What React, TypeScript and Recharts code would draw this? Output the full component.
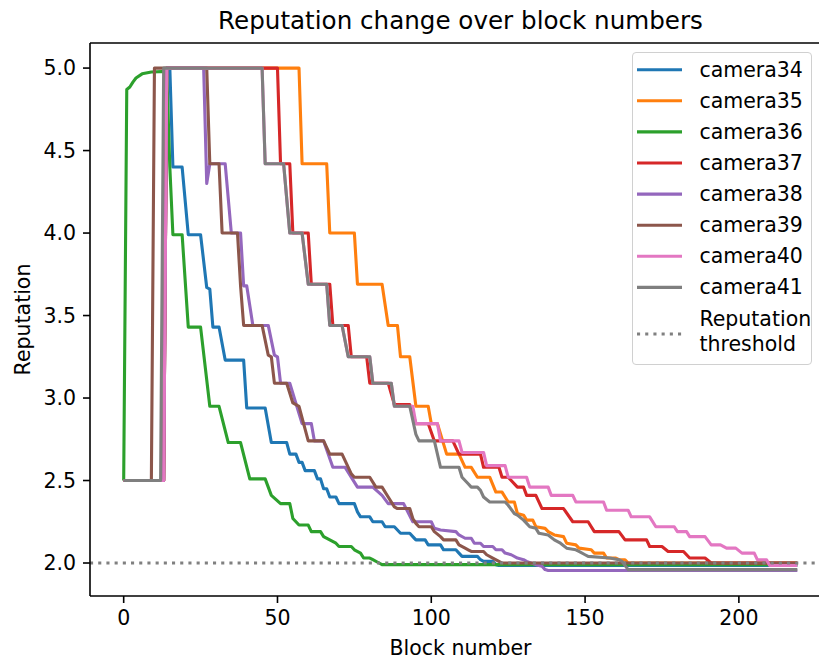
import React from 'react';
import { LineChart, Line, XAxis, YAxis, ReferenceLine, Legend } from 'recharts';

// ---------- data ----------
const SERIES_NAMES = ['camera34', 'camera35', 'camera36', 'camera37', 'camera38', 'camera39', 'camera40', 'camera41'];
const SERIES_COLORS = ['#1f77b4', '#ff7f0e', '#2ca02c', '#d62728', '#9467bd', '#8c564b', '#e377c2', '#7f7f7f'];

// [block number, reputation] vertices of each series
const camera34: [number, number][] = [
  [0, 2.5], [13, 2.5], [14, 5.0], [15, 5.0], [16, 4.4], [19, 4.4], [21, 3.99], [25, 3.99], [27, 3.67], [28, 3.66],
  [29, 3.43], [31, 3.43], [33, 3.23], [39, 3.23], [40, 2.94], [46, 2.94], [48, 2.73], [53, 2.73], [54, 2.66], [56, 2.66],
  [57, 2.61], [58, 2.61], [59, 2.56], [62, 2.56], [63, 2.51], [64, 2.51], [65, 2.45], [66, 2.45], [67, 2.4], [69, 2.4],
  [70, 2.36], [75, 2.36], [76, 2.31], [77, 2.28], [80, 2.28], [81, 2.25], [84, 2.25], [85, 2.22], [88, 2.22], [89, 2.2],
  [90, 2.18], [93, 2.18], [94, 2.16], [95, 2.14], [98, 2.14], [99, 2.11], [103, 2.11], [104, 2.08], [108, 2.08], [109, 2.06],
  [110, 2.04], [115, 2.04], [116, 2.02], [117, 2.01], [120, 2.01], [121, 1.99], [122, 1.985], [219, 1.985],
];
const camera35: [number, number][] = [
  [0, 2.5], [13, 2.5], [14, 5.0], [57, 5.0], [58, 4.42], [66, 4.42], [67, 4.0], [75, 4.0], [76, 3.69], [84, 3.69],
  [86, 3.44], [89, 3.44], [90, 3.25], [93, 3.25], [95, 2.95], [99, 2.95], [100, 2.845], [102, 2.845], [105, 2.66], [109, 2.66],
  [111, 2.58], [113, 2.58], [115, 2.52], [119, 2.52], [121, 2.43], [123, 2.43], [124, 2.4], [125, 2.37], [127, 2.37], [128, 2.3],
  [130, 2.29], [131, 2.26], [133, 2.26], [134, 2.22], [137, 2.21], [138, 2.19], [140, 2.17], [143, 2.16], [144, 2.12], [147, 2.11],
  [148, 2.09], [152, 2.08], [153, 2.06], [156, 2.06], [157, 2.03], [160, 2.03], [161, 2.02], [163, 2.02], [164, 2.0], [219, 2.0],
];
const camera36: [number, number][] = [
  [0, 2.5], [1, 4.87], [2, 4.885], [3, 4.915], [4, 4.94], [6, 4.965], [9, 4.976], [14, 4.98], [15, 4.4], [16, 3.99],
  [19, 3.99], [21, 3.43], [25, 3.43], [28, 2.95], [31, 2.95], [34, 2.73], [38, 2.73], [41, 2.51], [46, 2.51], [48, 2.41],
  [51, 2.36], [54, 2.36], [55, 2.27], [57, 2.23], [60, 2.23], [61, 2.19], [64, 2.19], [65, 2.16], [67, 2.14], [69, 2.12],
  [70, 2.1], [74, 2.1], [75, 2.08], [77, 2.06], [78, 2.03], [80, 2.03], [81, 2.02], [83, 2.0], [84, 1.99], [219, 1.99],
];
const camera37: [number, number][] = [
  [0, 2.5], [13, 2.5], [14, 5.0], [50, 5.0], [51, 4.42], [54, 4.42], [55, 4.0], [60, 4.0], [61, 3.69], [67, 3.69],
  [68, 3.44], [73, 3.44], [74, 3.25], [79, 3.25], [80, 3.09], [86, 3.09], [88, 2.96], [93, 2.96], [95, 2.845], [99, 2.845],
  [101, 2.74], [107, 2.74], [109, 2.66], [116, 2.66], [117, 2.58], [122, 2.58], [123, 2.52], [125, 2.52], [128, 2.46], [130, 2.46],
  [131, 2.41], [134, 2.41], [136, 2.33], [143, 2.33], [146, 2.25], [151, 2.25], [153, 2.19], [161, 2.19], [163, 2.14], [170, 2.14],
  [171, 2.1], [175, 2.1], [177, 2.07], [182, 2.07], [184, 2.03], [189, 2.03], [191, 2.0], [219, 2.0],
];
const camera38: [number, number][] = [
  [0, 2.5], [13, 2.5], [14, 5.0], [26, 5.0], [27, 4.3], [28, 4.42], [33, 4.42], [35, 4.0], [38, 4.0], [39, 3.68],
  [40, 3.68], [42, 3.44], [47, 3.44], [49, 3.26], [50, 3.25], [51, 3.09], [54, 3.09], [58, 2.845], [61, 2.845], [62, 2.74],
  [65, 2.74], [68, 2.58], [72, 2.58], [76, 2.46], [81, 2.46], [84, 2.41], [86, 2.36], [91, 2.36], [94, 2.25], [100, 2.25],
  [101, 2.21], [103, 2.2], [108, 2.19], [109, 2.17], [111, 2.15], [113, 2.15], [114, 2.12], [116, 2.12], [117, 2.1], [120, 2.1],
  [121, 2.08], [123, 2.08], [124, 2.06], [126, 2.05], [128, 2.03], [130, 2.02], [131, 2.01], [134, 1.99], [136, 1.98], [137, 1.96],
  [138, 1.955], [219, 1.955],
];
const camera39: [number, number][] = [
  [0, 2.5], [9, 2.5], [10, 5.0], [27, 5.0], [28, 4.42], [31, 4.42], [32, 4.0], [37, 4.0], [38, 3.68], [39, 3.44],
  [45, 3.44], [47, 3.26], [48, 3.25], [49, 3.09], [53, 3.09], [55, 2.97], [57, 2.95], [60, 2.74], [65, 2.74], [67, 2.66],
  [71, 2.66], [74, 2.54], [75, 2.52], [80, 2.52], [82, 2.46], [84, 2.46], [86, 2.4], [88, 2.34], [89, 2.33], [93, 2.33],
  [94, 2.27], [95, 2.24], [96, 2.22], [100, 2.22], [101, 2.19], [103, 2.16], [104, 2.14], [108, 2.14], [109, 2.11], [111, 2.09],
  [112, 2.08], [113, 2.07], [117, 2.07], [118, 2.05], [120, 2.03], [122, 2.01], [123, 2.0], [219, 2.0],
];
const camera40: [number, number][] = [
  [0, 2.5], [13, 2.5], [14, 5.0], [45, 5.0], [46, 4.42], [52, 4.42], [54, 4.0], [58, 4.0], [60, 3.69], [66, 3.69],
  [67, 3.44], [71, 3.44], [73, 3.25], [80, 3.25], [81, 3.09], [87, 3.09], [88, 2.95], [94, 2.95], [95, 2.845], [102, 2.845],
  [103, 2.74], [109, 2.74], [110, 2.67], [117, 2.67], [118, 2.59], [124, 2.59], [125, 2.52], [131, 2.52], [132, 2.46], [138, 2.46],
  [139, 2.41], [146, 2.41], [147, 2.37], [156, 2.37], [157, 2.32], [164, 2.32], [165, 2.28], [171, 2.28], [173, 2.22], [179, 2.22],
  [180, 2.19], [183, 2.19], [184, 2.16], [189, 2.16], [191, 2.11], [194, 2.11], [196, 2.09], [199, 2.09], [201, 2.06], [205, 2.06],
  [206, 2.02], [209, 2.02], [210, 1.985], [219, 1.985],
];
const camera41: [number, number][] = [
  [0, 2.5], [12, 2.5], [13, 5.0], [45, 5.0], [46, 4.42], [52, 4.42], [54, 4.0], [58, 4.0], [60, 3.69], [66, 3.69],
  [67, 3.44], [71, 3.44], [73, 3.25], [80, 3.25], [81, 3.09], [87, 3.09], [88, 2.95], [93, 2.95], [95, 2.78], [96, 2.74],
  [101, 2.74], [103, 2.58], [109, 2.58], [110, 2.52], [112, 2.48], [113, 2.46], [115, 2.46], [116, 2.44], [117, 2.4], [119, 2.37],
  [124, 2.37], [125, 2.35], [127, 2.3], [128, 2.29], [130, 2.26], [131, 2.24], [132, 2.22], [134, 2.21], [135, 2.18], [138, 2.17],
  [140, 2.14], [142, 2.12], [144, 2.09], [147, 2.08], [148, 2.07], [150, 2.05], [151, 2.04], [158, 2.03], [161, 2.02], [162, 2.01],
  [164, 1.96], [219, 1.96],
];
const SERIES_VALUES = [camera34, camera35, camera36, camera37, camera38, camera39, camera40, camera41];

const X_TICKS = [0, 50, 100, 150, 200];
const Y_TICKS = [2.0, 2.5, 3.0, 3.5, 4.0, 4.5, 5.0];
const X_DOMAIN: [number, number] = [-10.95, 229.95];
const Y_DOMAIN: [number, number] = [1.8, 5.152];
const THRESHOLD = 2.0;
const TITLE = 'Reputation change over block numbers';
const X_LABEL = 'Block number';
const Y_LABEL = 'Reputation';
const THRESHOLD_LABEL = ['Reputation', 'threshold'];

// ---------- styles ----------
const FONT = '"DejaVu Sans", sans-serif';
const FS = 20.5;
const LW = 3.1;
const SPINE = 1.6;
const THRESH_COLOR = '#808080';

const seriesData = SERIES_VALUES.map((arr) => arr.map(([x, y]) => ({ x, y })));

const LegendBox = () => {
  const rowTop = 18.7;
  const rowStep = 31.1;
  return (
    <div
      style={{
        position: 'relative',
        width: 180,
        height: 313,
        boxSizing: 'border-box',
        border: '1.6px solid #d0d0d0',
        borderRadius: 4,
        background: 'rgba(255,255,255,0.8)',
        fontFamily: FONT,
        fontSize: FS,
        color: '#000',
      }}
    >
      <svg width={180} height={313} style={{ position: 'absolute', left: -1.6, top: -1.6 }}>
        {SERIES_NAMES.map((n, i) => (
          <line key={n} x1={6} x2={51} y1={rowTop + rowStep * i} y2={rowTop + rowStep * i} stroke={SERIES_COLORS[i]} strokeWidth={LW} />
        ))}
        <line x1={6} x2={51} y1={283} y2={283} stroke={THRESH_COLOR} strokeWidth={LW} strokeDasharray="3.1 5.1" />
      </svg>
      {SERIES_NAMES.map((n, i) => (
        <div
          key={n}
          style={{ position: 'absolute', left: 66.4, top: rowTop + rowStep * i - 12.5 - 1.6, height: 25, lineHeight: '25px', whiteSpace: 'nowrap' }}
        >
          {n}
        </div>
      ))}
      <div style={{ position: 'absolute', left: 66.4, top: 280.5 - 25 - 1.6, lineHeight: '25px', whiteSpace: 'nowrap' }}>
        {THRESHOLD_LABEL.map((t) => (
          <div key={t}>{t}</div>
        ))}
      </div>
    </div>
  );
};

export default function App() {
  return (
    <div style={{ position: 'absolute', left: 0, top: 0, width: 819, height: 660, overflow: 'hidden', background: '#fff' }}>
      <div
        style={{
          position: 'absolute',
          left: 90,
          width: 741,
          top: 5.5,
          lineHeight: '30px',
          textAlign: 'center',
          fontFamily: FONT,
          fontSize: 24.6,
          color: '#000',
          whiteSpace: 'nowrap',
        }}
      >
        {TITLE}
      </div>
      <LineChart width={845} height={660} margin={{ top: 43, right: 14, bottom: 0, left: 0 }} style={{ position: 'absolute', left: 0, top: 0 }}>
        <XAxis
          dataKey="x"
          type="number"
          domain={X_DOMAIN}
          allowDataOverflow
          ticks={X_TICKS}
          height={64}
          tickSize={7}
          tickMargin={7}
          axisLine={{ stroke: '#000', strokeWidth: SPINE }}
          tickLine={{ stroke: '#000', strokeWidth: SPINE }}
          tick={{ fill: '#000', fontSize: FS, fontFamily: FONT }}
          interval={0}
          label={{
            content: (p: any) => {
              const vb = p.viewBox || { x: 90, y: 596, width: 741 };
              return (
                <text x={vb.x + vb.width / 2} y={vb.y + 59} textAnchor="middle" fontSize={FS} fontFamily={FONT} fill="#000">
                  {X_LABEL}
                </text>
              );
            },
          }}
        />
        <YAxis
          type="number"
          domain={Y_DOMAIN}
          allowDataOverflow
          ticks={Y_TICKS}
          width={90}
          tickSize={7}
          tickMargin={7}
          tickFormatter={(v: number) => v.toFixed(1)}
          axisLine={{ stroke: '#000', strokeWidth: SPINE }}
          tickLine={{ stroke: '#000', strokeWidth: SPINE }}
          tick={{ fill: '#000', fontSize: FS, fontFamily: FONT }}
          interval={0}
          label={{
            content: (p: any) => {
              const vb = p.viewBox || { x: 0, y: 43, height: 553 };
              const cx = vb.x + 30;
              const cy = vb.y + vb.height / 2;
              return (
                <text x={cx} y={cy} transform={`rotate(-90 ${cx} ${cy})`} textAnchor="middle" fontSize={FS} fontFamily={FONT} fill="#000">
                  {Y_LABEL}
                </text>
              );
            },
          }}
        />
        {SERIES_NAMES.map((n, i) => (
          <Line
            key={n}
            data={seriesData[i]}
            dataKey="y"
            name={n}
            type="linear"
            stroke={SERIES_COLORS[i]}
            strokeWidth={LW}
            strokeLinejoin="round"
            dot={false}
            activeDot={false}
            isAnimationActive={false}
          />
        ))}
        <ReferenceLine y={THRESHOLD} stroke={THRESH_COLOR} strokeWidth={LW} strokeDasharray="3.1 5.1" />
        <ReferenceLine y={Y_DOMAIN[1]} stroke="#000" strokeWidth={SPINE} />
        <Legend
          layout="vertical"
          align="center"
          verticalAlign="middle"
          wrapperStyle={{ left: 632, top: 52, width: 180, height: 313 }}
          content={() => <LegendBox />}
        />
      </LineChart>
    </div>
  );
}
